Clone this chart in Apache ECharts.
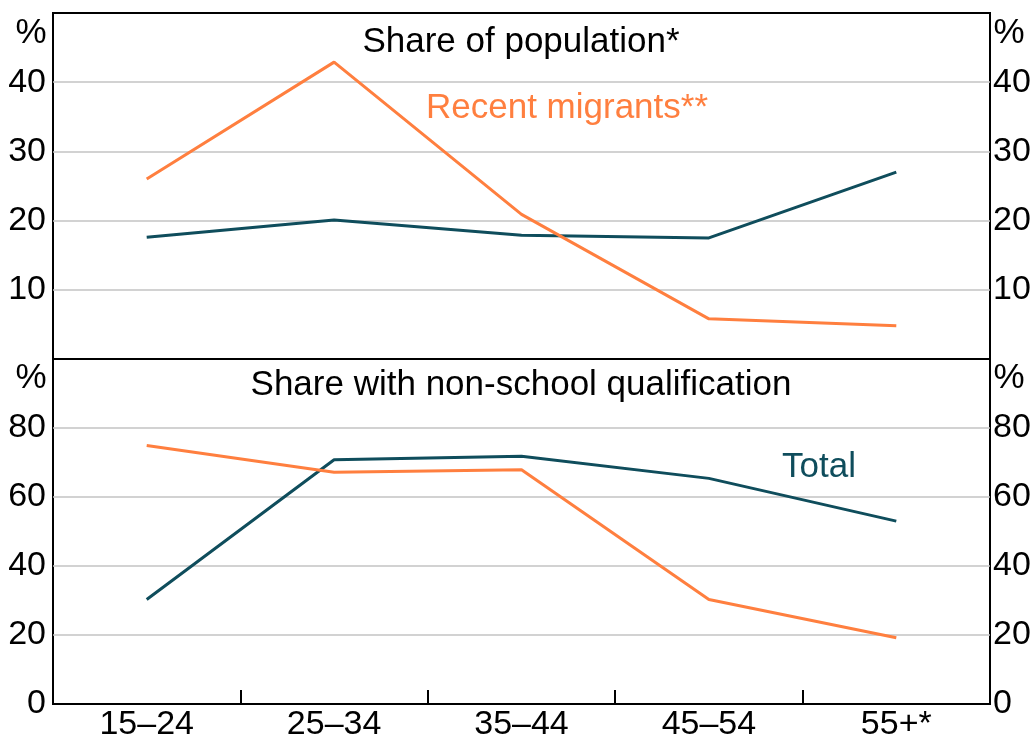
<!DOCTYPE html>
<html>
<head>
<meta charset="utf-8">
<script src="https://cdn.jsdelivr.net/npm/echarts@6/dist/echarts.min.js"></script>
<style>
html, body { margin: 0; padding: 0; background: #fff; }
#chart { width: 1034px; height: 745px; }
</style>
</head>
<body>
<div id="chart"></div>
<script>
// data
var ageGroups = ['15–24', '25–34', '35–44', '45–54', '55+*'];
var popTotal = [17.6, 20.1, 17.9, 17.5, 27.0];
var popMigrants = [26.0, 42.9, 20.9, 5.8, 4.8];
var qualTotal = [30.3, 70.8, 71.8, 65.4, 53.0];
var qualMigrants = [74.9, 67.2, 67.9, 30.3, 19.2];

var teal = '#0f4d5c';
var orange = '#ff7f3f';
var font = '"Liberation Sans", Arial, sans-serif';

var dom = document.getElementById('chart');
var myChart = echarts.init(dom);

function yAx(grid, pos, max, step, hide) {
    return {
        type: 'value', gridIndex: grid, position: pos,
        min: 0, max: max, interval: step,
        axisLine: { show: false }, axisTick: { show: false },
        splitLine: { show: pos == 'left', showMinLine: false, showMaxLine: false,
                     lineStyle: { color: '#c3c3c3', width: 1.5 } },
        axisLabel: {
            color: '#000', fontSize: 34, fontFamily: font, margin: pos == 'left' ? 7 : 3,
            formatter: function (v) { return hide.indexOf(v) >= 0 ? '' : v; }
        }
    };
}

// annotation text, x/y is the anchor point
function txt(x, y, s, color, align) {
    return {
        type: 'text', x: x, y: y, z: 100,
        style: { text: s, fill: color, font: '35px ' + font, align: align || 'center', verticalAlign: 'middle' }
    };
}

var option = {
    animation: false,
    grid: [
        { left: 53, right: 44, top: 13, height: 346, show: true, borderColor: '#000', borderWidth: 2 },
        { left: 53, right: 44, top: 359, height: 345, show: true, borderColor: '#000', borderWidth: 2 }
    ],
    xAxis: [
        { type: 'category', gridIndex: 0, data: ageGroups, boundaryGap: true,
          axisLine: { show: false }, axisTick: { show: false }, axisLabel: { show: false } },
        { type: 'category', gridIndex: 1, data: ageGroups, boundaryGap: true,
          axisLine: { show: false },
          axisTick: { show: true, inside: true, length: 14, interval: 0, lineStyle: { color: '#000', width: 2 } },
          axisLabel: { color: '#000', fontSize: 34, fontFamily: font, margin: 4 } }
    ],
    yAxis: [
        yAx(0, 'left', 50, 10, [0, 50]),
        yAx(0, 'right', 50, 10, [0, 50]),
        yAx(1, 'left', 100, 20, [100]),
        yAx(1, 'right', 100, 20, [100])
    ],
    series: [
        { name: 'Total', type: 'line', xAxisIndex: 0, yAxisIndex: 0, data: popTotal,
          symbol: 'none', lineStyle: { color: teal, width: 3 } },
        { name: 'Recent migrants', type: 'line', xAxisIndex: 0, yAxisIndex: 0, data: popMigrants,
          symbol: 'none', lineStyle: { color: orange, width: 3 } },
        { name: 'Total', type: 'line', xAxisIndex: 1, yAxisIndex: 2, data: qualTotal,
          symbol: 'none', lineStyle: { color: teal, width: 3 } },
        { name: 'Recent migrants', type: 'line', xAxisIndex: 1, yAxisIndex: 2, data: qualMigrants,
          symbol: 'none', lineStyle: { color: orange, width: 3 } }
    ],
    graphic: [
        txt(521, 42, 'Share of population*', '#000'),
        txt(567, 108, 'Recent migrants**', orange),
        txt(521, 385, 'Share with non-school qualification', '#000'),
        txt(819, 467, 'Total', teal),
        txt(31, 33, '%', '#000'),
        txt(1009, 33, '%', '#000'),
        txt(31, 378, '%', '#000'),
        txt(1009, 378, '%', '#000')
    ]
};

if (option && typeof option === 'object') {
    myChart.setOption(option, true);
}
</script>
</body>
</html>
